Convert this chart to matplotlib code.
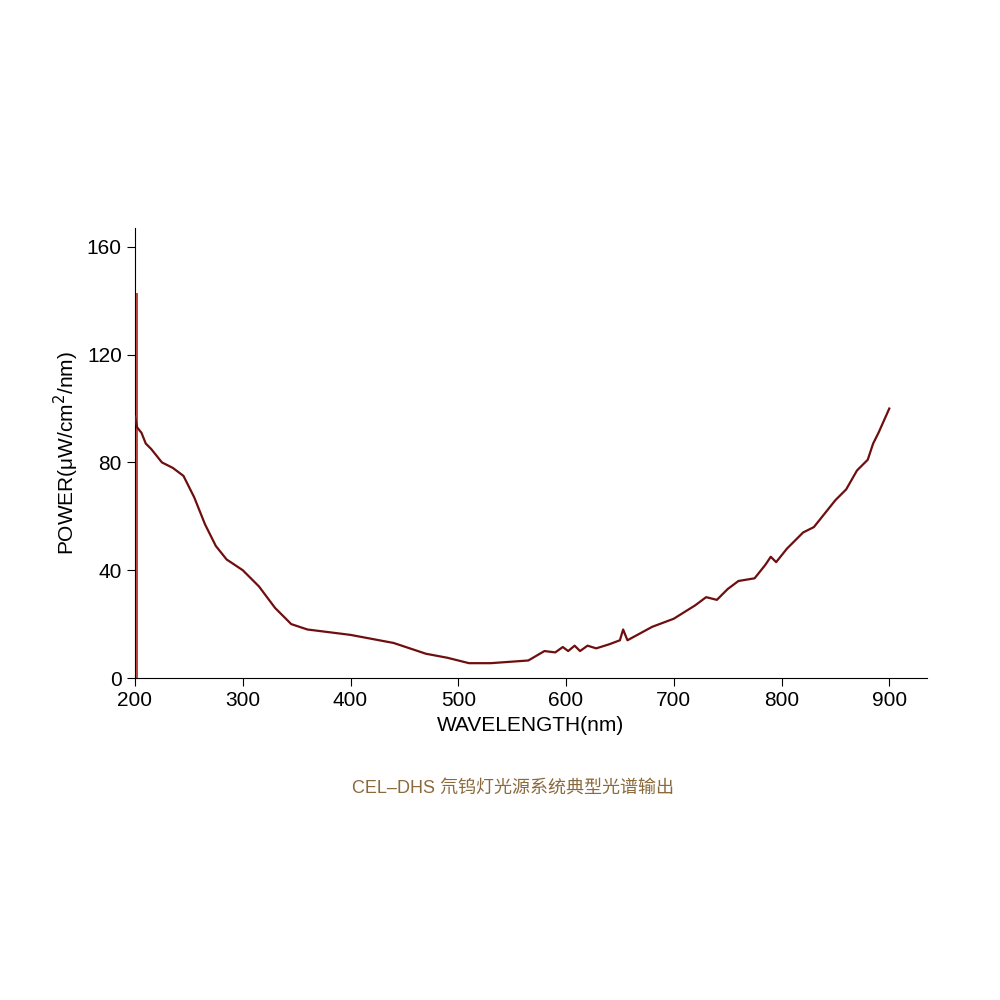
import matplotlib
matplotlib.use("Agg")
from matplotlib import pyplot as plt

plt.rcParams['font.family'] = ['Liberation Sans', 'Noto Sans CJK SC', 'DejaVu Sans']

# spectrum
wavelength = [200, 202, 206, 210, 215, 225, 235, 245, 255, 265, 275, 285, 300, 315, 330,
              345, 360, 400, 440, 470, 490, 510, 530, 565, 580, 590, 597, 602, 608, 613,
              620, 628, 640, 650, 653, 657, 680, 700, 720, 730, 740, 750, 760, 775, 785,
              790, 795, 805, 820, 830, 840, 850, 860, 870, 880, 885, 890, 900]
power = [97, 93, 91, 87, 85, 80, 78, 75, 67, 57, 49, 44, 40, 34, 26,
         20, 18, 16, 13, 9, 7.5, 5.5, 5.5, 6.5, 10, 9.5, 11.5, 10, 12, 10,
         12, 11, 12.5, 14, 18, 14, 19, 22, 27, 30, 29, 33, 36, 37, 42,
         45, 43, 48, 54, 56, 61, 66, 70, 77, 81, 87, 91, 100]

# deuterium line
peak_x = 201.5
peak_h = 143

fig = plt.figure(figsize=(10, 10), dpi=100)
ax = fig.add_axes([0.135, 0.322, 0.792, 0.45])
ax.bar([peak_x], [peak_h], width=3, color='#c9453a', zorder=2)
ax.plot(wavelength, power, color='#6e0e0e', lw=1.6, zorder=3)

ax.set_xlim(200, 935)
ax.set_ylim(0, 167)
ax.set_xticks([200, 300, 400, 500, 600, 700, 800, 900])
ax.set_yticks([0, 40, 80, 120, 160])
ax.tick_params(labelsize=15, length=6, direction='out')
for s in ['top', 'right']:
    ax.spines[s].set_visible(False)
ax.set_xlabel('WAVELENGTH(nm)', fontsize=15)
ax.set_ylabel('POWER(μW/cm$^2$/nm)', fontsize=15)

fig.text(0.513, 0.212, 'CEL–DHS 氘钨灯光源系统典型光谱输出', ha='center', va='center',
         fontsize=13, color='#8a6a3c')

plt.savefig('out.png')
